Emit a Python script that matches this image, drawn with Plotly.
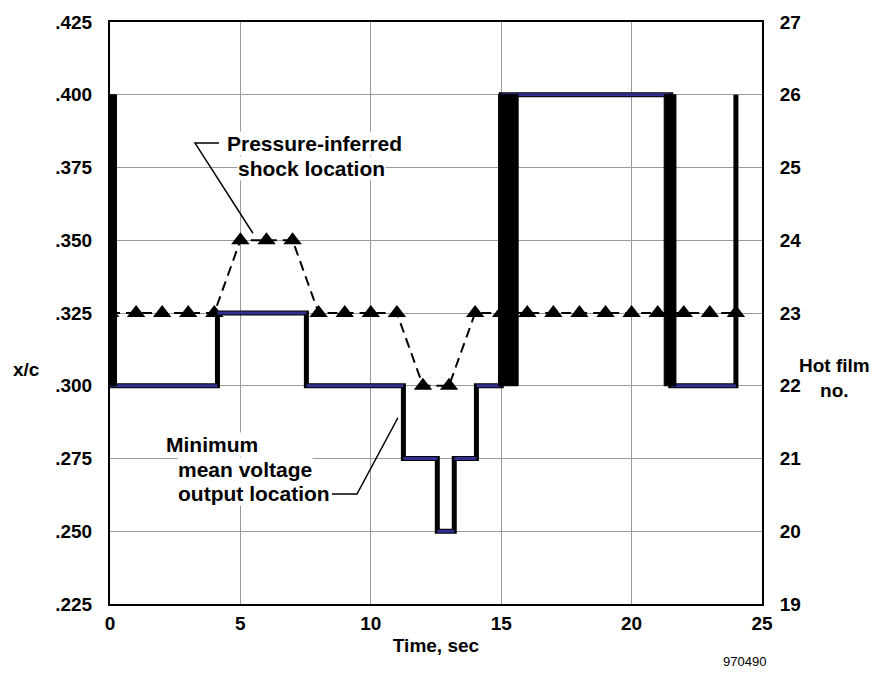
import plotly.graph_objects as go

# Time axis (s) and measured locations
shock_time = [0, 1, 2, 3, 4, 5, 6, 7, 8, 9, 10, 11, 12, 13, 14, 15, 16, 17, 18, 19, 20, 21, 22, 23, 24]
shock_xc = [0.325, 0.325, 0.325, 0.325, 0.325, 0.350, 0.350, 0.350, 0.325, 0.325, 0.325, 0.325,
            0.300, 0.300, 0.325, 0.325, 0.325, 0.325, 0.325, 0.325, 0.325, 0.325, 0.325, 0.325, 0.325]

# Minimum mean voltage output location, as step change points
step_time = [0.0, 0.0, 4.12, 7.53, 11.25, 12.55, 13.2, 14.05, 15.0, 21.5, 24.0]
step_xc = [0.400, 0.300, 0.325, 0.300, 0.275, 0.250, 0.275, 0.300, 0.400, 0.300, 0.400]

# Intervals of rapid switching between two hot films
burst_start = [0.0, 14.9, 21.25]
burst_end = [0.25, 15.65, 21.7]
burst_low = [0.300, 0.300, 0.300]
burst_high = [0.400, 0.400, 0.400]

x_ticks = [0, 5, 10, 15, 20, 25]
xc_ticks = [0.225, 0.250, 0.275, 0.300, 0.325, 0.350, 0.375, 0.400, 0.425]
xc_labels = [".225", ".250", ".275", ".300", ".325", ".350", ".375", ".400", ".425"]
film_ticks = [19, 20, 21, 22, 23, 24, 25, 26, 27]

FONT = "Liberation Sans, Arial, sans-serif"
BLUE = "#2f3191"

# plot area in pixels (left, right, top, bottom)
PL, PR, PT, PB = 110, 762, 17, 604

def px(xp, yp):
    """Pixel position to paper coordinates of the plot area."""
    return (xp - PL) / (PR - PL), (PB - yp) / (PB - PT)

fig = go.Figure()

# Pressure-inferred shock location
fig.add_trace(go.Scatter(
    x=shock_time, y=shock_xc, mode="lines+markers",
    line=dict(color="black", width=2, dash="10px,6px"),
    marker=dict(symbol="triangle-up", size=16, color="black"),
    showlegend=False, hoverinfo="skip"))

# Step path
fig.add_trace(go.Scatter(
    x=step_time, y=step_xc, mode="lines",
    line=dict(color="black", width=5, shape="hv"),
    showlegend=False, hoverinfo="skip"))

# Horizontal runs of the step path
hx, hy = [], []
for i in range(len(step_time) - 1):
    if step_time[i + 1] > step_time[i]:
        hx += [step_time[i], step_time[i + 1], None]
        hy += [step_xc[i], step_xc[i], None]
fig.add_trace(go.Scatter(
    x=hx, y=hy, mode="lines", line=dict(color=BLUE, width=3),
    showlegend=False, hoverinfo="skip"))

# Switching bursts drawn as filled blocks
for a, b, lo, hi in zip(burst_start, burst_end, burst_low, burst_high):
    fig.add_trace(go.Scatter(
        x=[a, b, b, a, a], y=[lo, lo, hi, hi, lo], mode="lines",
        fill="toself", fillcolor="black", line=dict(color="black", width=1),
        showlegend=False, hoverinfo="skip"))

# Hot film number scale
fig.add_trace(go.Scatter(x=[None], y=[None], yaxis="y2", showlegend=False, hoverinfo="skip"))

bold = dict(family=FONT, size=19, color="black", weight="bold")

fig.update_layout(
    width=894, height=675,
    margin=dict(l=PL, r=894 - PR, t=PT, b=675 - PB),
    paper_bgcolor="white", plot_bgcolor="white",
    xaxis=dict(range=[0, 25], tickvals=x_ticks, ticktext=[f"<b>{v}</b>" for v in x_ticks],
               showgrid=True, gridcolor="#9a9a9a", gridwidth=1, zeroline=False,
               showline=True, linecolor="black", linewidth=2, mirror=True,
               ticks="", tickfont=bold, ticklabelstandoff=1,
               title=dict(text="<b>Time, sec</b>", font=bold, standoff=6)),
    yaxis=dict(range=[0.225, 0.425], tickvals=xc_ticks, ticktext=[f"<b>{v}</b>" for v in xc_labels],
               showgrid=True, gridcolor="#9a9a9a", gridwidth=1, zeroline=False,
               showline=True, linecolor="black", linewidth=2, mirror=True,
               ticks="", tickfont=bold, ticklabelstandoff=12),
    yaxis2=dict(range=[19, 27], tickvals=film_ticks, ticktext=[f"<b>{v}</b>" for v in film_ticks],
                overlaying="y", side="right", showgrid=False, zeroline=False,
                showline=True, linecolor="black", linewidth=2,
                ticks="", tickfont=bold, ticklabelstandoff=12),
)

ann_font = dict(family=FONT, size=21, color="black", weight="bold")

def label(text, x, y, xanchor="center"):
    fig.add_annotation(x=x, y=y, xref="x", yref="y", text=f"<b>{text}</b>", showarrow=False,
                       xanchor=xanchor, yanchor="middle", font=ann_font,
                       bgcolor="white", borderpad=0)

label("Pressure-inferred", 7.84, 0.3834)
label("shock location", 7.73, 0.3745)
label("Minimum", 2.11, 0.2798, "left")
label("mean voltage", 2.57, 0.2713, "left")
label("output location", 2.57, 0.2631, "left")

# Leader lines
fig.add_shape(type="path", xref="x", yref="y",
              path="M 4.18 0.3834 L 3.26 0.3834 L 5.48 0.3524",
              line=dict(color="black", width=1.5))
fig.add_shape(type="path", xref="x", yref="y",
              path="M 8.51 0.2628 L 9.47 0.2628 L 11.04 0.289",
              line=dict(color="black", width=1.5))

# Axis titles beside the scales
ax, ay = px(26, 367)
fig.add_annotation(x=ax, y=ay, xref="paper", yref="paper", text="<b>x/c</b>", showarrow=False,
                   font=bold, xanchor="center", yanchor="middle")
hx_, hy_ = px(835, 376)
fig.add_annotation(x=hx_, y=hy_, xref="paper", yref="paper", text="<b>Hot film<br>no.</b>",
                   showarrow=False, font=bold, xanchor="center", yanchor="middle")
nx, ny = px(744, 662)
fig.add_annotation(x=nx, y=ny, xref="paper", yref="paper", text="970490", showarrow=False,
                   font=dict(family=FONT, size=13, color="black"),
                   xanchor="center", yanchor="middle")

fig.write_html("out.html")
